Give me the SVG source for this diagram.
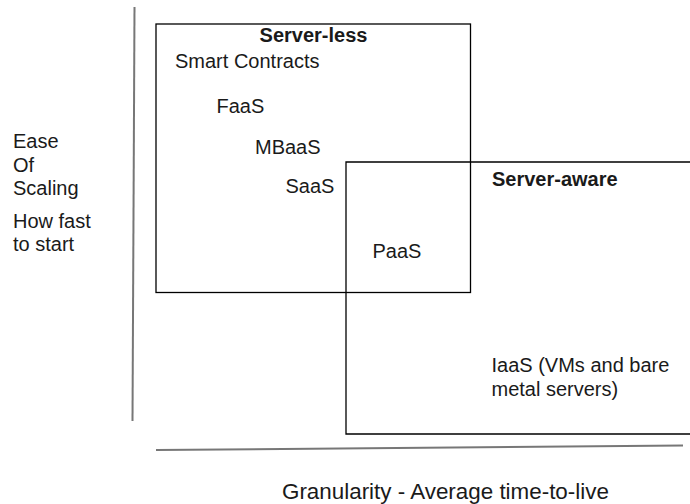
<svg xmlns="http://www.w3.org/2000/svg" width="690" height="504" viewBox="0 0 690 504">
<style>
text{font-family:"Liberation Sans",Arial,sans-serif;font-size:20px;fill:#1a1a1a}
.b{font-weight:bold}
.box{fill:none;stroke:#000;stroke-width:1.3}
.axis{fill:none;stroke:#777;stroke-width:2}
</style>
<rect width="690" height="504" fill="#fff"/>
<g id="axes">
<line class="axis" x1="134.5" y1="7" x2="132.5" y2="421"/>
<line class="axis" x1="156" y1="450" x2="683" y2="445.5"/>
</g>
<g id="server-less">
<rect class="box" x="156" y="24" width="314.5" height="268.5"/>
<text class="b" x="313.5" y="42" text-anchor="middle">Server-less</text>
<text x="175" y="68">Smart Contracts</text>
<text x="216.5" y="113">FaaS</text>
<text x="255" y="154">MBaaS</text>
<text x="285.5" y="193">SaaS</text>
</g>
<g id="server-aware">
<path class="box" d="M700,162 H346 V434 H700"/>
<text class="b" x="492" y="186">Server-aware</text>
<text x="372.5" y="258">PaaS</text>
<text x="491.5" y="372">IaaS (VMs and bare</text>
<text x="491.5" y="396">metal servers)</text>
</g>
<g id="y-label">
<text x="13" y="148">Ease</text>
<text x="13" y="172">Of</text>
<text x="13" y="195">Scaling</text>
<text x="13" y="228">How fast</text>
<text x="13" y="251">to start</text>
</g>
<g id="x-label">
<text x="282" y="499" style="font-size:22.4px">Granularity - Average time-to-live</text>
</g>
</svg>
